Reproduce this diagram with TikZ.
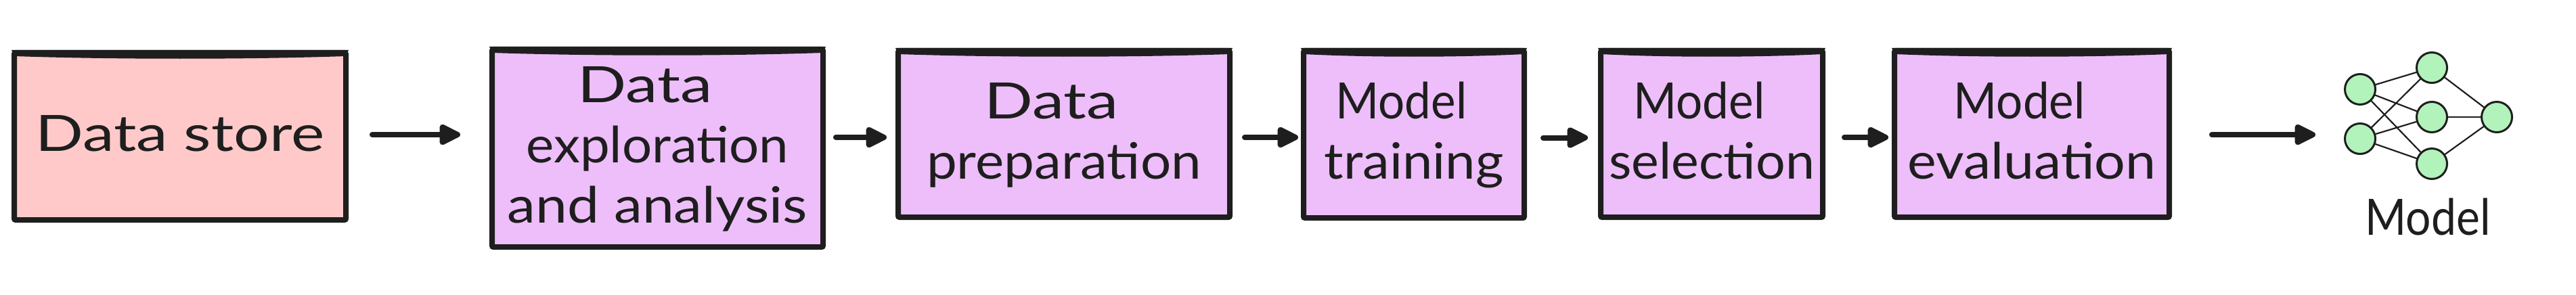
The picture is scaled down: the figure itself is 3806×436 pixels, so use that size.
\documentclass[tikz,border=0pt]{standalone}
\usepackage{graphicx}
\usepackage{fontspec}
\setmainfont{Lato}
\usetikzlibrary{arrows.meta,calc}
\definecolor{ink}{HTML}{1E1E1E}
\definecolor{pinkfill}{HTML}{FFC9C9}
\definecolor{purplefill}{HTML}{EEBEFA}
\definecolor{greenfill}{HTML}{B2F2BB}
\newcommand{\hw}[2]{\rule[-23pt]{0pt}{89pt}\resizebox{#1pt}{\height}{#2}}
\newcommand{\tsp}{\hspace*{37pt}}
\newcommand{\heavy}[1]{\fill[ink] ([shift={(-4pt,4pt)}]#1.north west) -- ([shift={(4pt,4pt)}]#1.north east) -- ([yshift=-5pt]#1.north east) .. controls ([yshift=-10pt]$(#1.north east)!.3!(#1.north west)$) and ([yshift=-10pt]$(#1.north west)!.3!(#1.north east)$) .. ([yshift=-5pt]#1.north west) -- cycle;}
\tikzset{
  x=1pt,y=-1pt,
  stagebox/.style={draw=ink,line width=8pt,rounded corners=2pt,inner sep=0pt,outer sep=0pt,align=center,text=ink,font=\fontsize{74}{89}\selectfont},
  flow/.style={draw=ink,line width=8pt,line cap=round,-{Triangle[length=36pt,width=33pt,round]}},
  neuron/.style={circle,draw=ink,fill=greenfill,line width=3pt,minimum size=45pt,inner sep=0pt,outer sep=0pt},
  synapse/.style={draw=ink,line width=2.2pt},
  caption/.style={text=ink,inner sep=0pt,outer sep=0pt,font=\fontsize{74}{89}\selectfont}
}
\begin{document}
\begin{tikzpicture}
\useasboundingbox (0,0) rectangle (3806,436);
\fill[white] (0,0) rectangle (3806,436);
\node[stagebox,fill=pinkfill,minimum width=490pt,minimum height=247pt] (ds) at (266,201.5) {\hw{427}{Data store}};
\node[stagebox,fill=purplefill,minimum width=489pt,minimum height=292pt] (de) at (971.5,219) {\hw{199}{Data}\tsp\\\hw{388}{exploration}\tsp\\\hw{443}{and analysis}};
\node[stagebox,fill=purplefill,minimum width=490pt,minimum height=246pt] (dp) at (1572,198) {\hw{198}{Data}\tsp\\\hw{406}{preparation}};
\node[stagebox,fill=purplefill,minimum width=326pt,minimum height=247pt] (mt) at (2089,198.5) {\hw{194}{Model}\tsp\\\hw{265}{training}};
\node[stagebox,fill=purplefill,minimum width=328pt,minimum height=246pt] (ms) at (2529,198) {\hw{194}{Model}\tsp\\\hw{304}{selection}};
\node[stagebox,fill=purplefill,minimum width=406pt,minimum height=246pt] (me) at (3002,198) {\hw{194}{Model}\tsp\\\hw{367}{evaluation}};
\heavy{ds}\heavy{de}\heavy{dp}\heavy{mt}\heavy{ms}\heavy{me}
\node[neuron] (c1) at (3487,132) {};
\node[neuron] (c2) at (3487,205) {};
\node[neuron] (h1) at (3593,100) {};
\node[neuron] (h2) at (3593,173) {};
\node[neuron] (h3) at (3593,242) {};
\node[neuron] (o1) at (3689,173) {};
\foreach \a/\b in {c1/h1,c1/h2,c1/h3,c2/h1,c2/h2,c2/h3,h1/o1,h2/o1,h3/o1}
  \draw[synapse] (\a) -- (\b);
\node[caption] (lab) at (3587,325.5) {\hw{185}{Model}};
\draw[flow,shorten <=39pt,shorten >=47pt] ([yshift=2.5pt]ds.east) -- ([yshift=2.5pt]ds.east -| de.west);
\draw[flow,shorten <=19pt,shorten >=17pt] ([yshift=-5pt]de.east |- dp.east) -- ([yshift=-5pt]dp.west);
\draw[flow,shorten <=22pt,shorten >=8pt] ([yshift=-5pt]dp.east) -- ([yshift=-5pt]dp.east -| mt.west);
\draw[flow,shorten <=28pt,shorten >=19pt] ([yshift=-5pt]mt.east) -- ([yshift=-5pt]mt.east -| ms.west);
\draw[flow,shorten <=32pt,shorten >=9pt] ([yshift=-5pt]ms.east) -- ([yshift=-5pt]ms.east -| me.west);
\draw[flow,shorten <=63pt,shorten >=43.5pt] ([yshift=-1pt]me.east) -- ([yshift=-1pt]me.east -| c1.west);
\end{tikzpicture}
\end{document}
